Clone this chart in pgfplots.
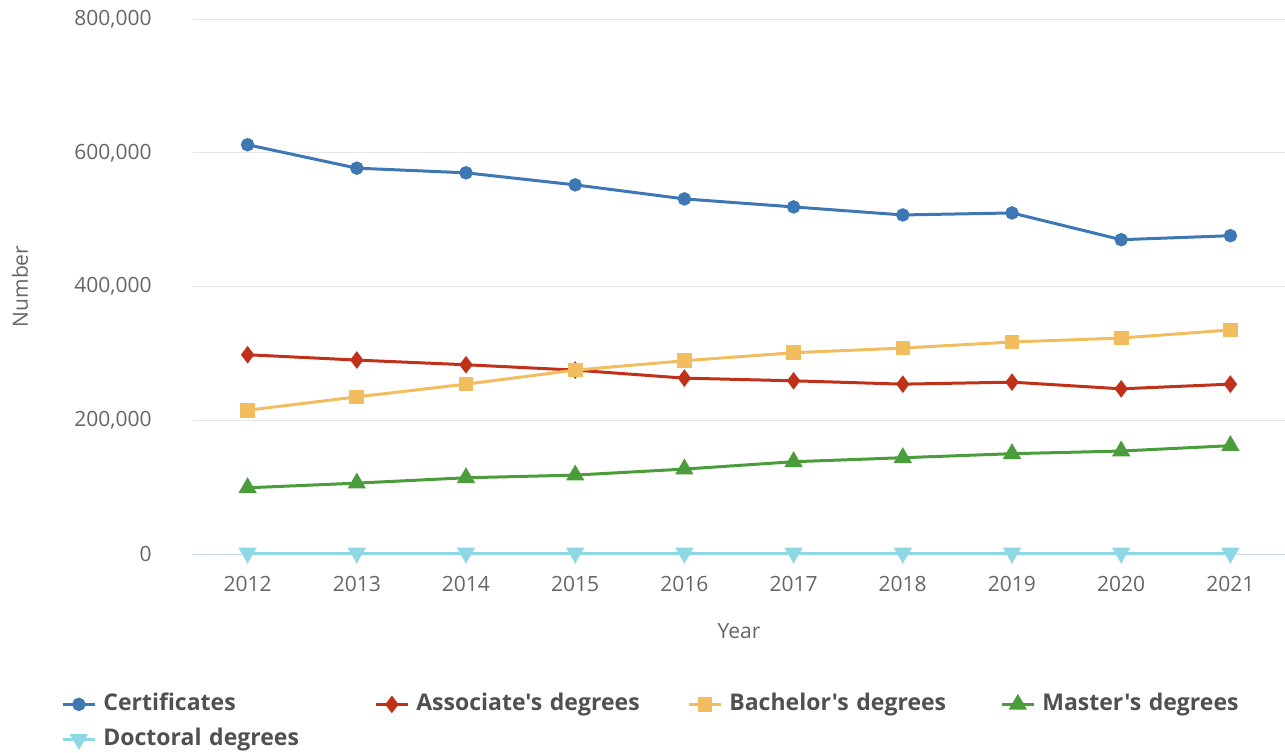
\documentclass[border=0pt]{standalone}
\usepackage{pgfplots}
\pgfplotsset{compat=1.18}
\usepackage{fontspec}
\setmainfont{Open Sans}[Ligatures=TeXOff]

\definecolor{cert}{HTML}{3D78B4}
\definecolor{assoc}{HTML}{C0311A}
\definecolor{bach}{HTML}{F2BD5F}
\definecolor{mast}{HTML}{4A9D3A}
\definecolor{doct}{HTML}{8ED8E6}
\definecolor{axisline}{HTML}{CCD6EB}
\definecolor{gridc}{HTML}{E6E6E6}
\definecolor{labc}{HTML}{666666}
\definecolor{legc}{HTML}{505050}

\begin{document}
\begin{tikzpicture}
\path[use as bounding box] (-96.5pt,-99pt) rectangle (546pt,277pt);
\begin{axis}[
    scale only axis,
    width=546pt, height=267.5pt,
    xmin=2011.5, xmax=2021.5,
    ymin=0, ymax=800000,
    clip=false,
    axis x line=bottom,
    axis y line=left,
    x axis line style={-, draw=axisline, line width=0.5pt},
    y axis line style={draw=none},
    xtick={2012,...,2021},
    ytick={0,200000,400000,600000,800000},
    tick align=outside,
    major tick length=5pt,
    xtick style={draw=axisline, line width=0.5pt},
    ytick style={draw=none},
    ymajorgrids,
    grid style={gridc, line width=0.5pt},
    scaled y ticks=false,
    ticklabel style={font=\fontsize{10.5}{12}\selectfont, text=labc, inner sep=0pt},
    xticklabel style={/pgf/number format/1000 sep=, anchor=north, yshift=-6pt},
    yticklabel style={/pgf/number format/fixed, /pgf/number format/1000 sep={,}, anchor=east, xshift=-15.5pt},
    /pgf/number format/assume math mode=true,
    xlabel={Year},
    ylabel={Number},
    label style={font=\fontsize{10.5}{12}\selectfont, text=labc},
    xlabel style={at={(axis description cs:0.5,-0.1439)}, anchor=center},
    ylabel style={at={(axis description cs:-0.1584,0.5)}, anchor=center},
    every axis plot/.append style={line width=1.5pt},
    legend columns=4,
    legend image code/.code={
        \draw[#1] (0pt,0pt) -- (16pt,0pt);
        \draw[#1, mark repeat=2, mark phase=2] plot coordinates {(0pt,0pt) (8pt,0pt) (16pt,0pt)};
        \path (19.5pt,0pt);
    },
    legend style={
        at={(axis description cs:-0.1209,-0.2598)}, anchor=north west,
        draw=none, fill=none,
        font=\bfseries\fontsize{11.5}{13}\selectfont, text=legc,
        inner sep=0pt, row sep=6.5pt, column sep=0pt,
        nodes={inner sep=0pt, text depth=2.5pt, text height=8.5pt},
        cells={anchor=west, text width=135.5pt},
    },
]
\addplot[cert, mark=*, mark size=2.6pt] coordinates {
(2012,612000) (2013,577000) (2014,570000) (2015,552000) (2016,531000)
(2017,519000) (2018,507000) (2019,510000) (2020,470000) (2021,476000)};
\addlegendentry{Certificates}
\addplot[assoc, mark=diamond*, mark size=3.2pt] coordinates {
(2012,298000) (2013,290000) (2014,283000) (2015,275000) (2016,263000)
(2017,259000) (2018,254000) (2019,257000) (2020,247000) (2021,254000)};
\addlegendentry{Associate's degrees}
\addplot[bach, mark=square*, mark size=2.9pt] coordinates {
(2012,215000) (2013,235000) (2014,254000) (2015,275000) (2016,289000)
(2017,301000) (2018,308000) (2019,317000) (2020,323000) (2021,335000)};
\addlegendentry{Bachelor's degrees}
\addplot[mast, mark=triangle*, mark size=3.8pt] coordinates {
(2012,99000) (2013,106000) (2014,114000) (2015,118000) (2016,127000)
(2017,138000) (2018,144000) (2019,150000) (2020,154000) (2021,162000)};
\addlegendentry{Master's degrees}
\addplot[doct, mark=triangle*, mark size=3.8pt, mark options={rotate=180}] coordinates {
(2012,1500) (2013,1500) (2014,1500) (2015,1500) (2016,1500)
(2017,1500) (2018,1500) (2019,1500) (2020,1500) (2021,1500)};
\addlegendentry{Doctoral degrees}
\end{axis}
\end{tikzpicture}
\end{document}
